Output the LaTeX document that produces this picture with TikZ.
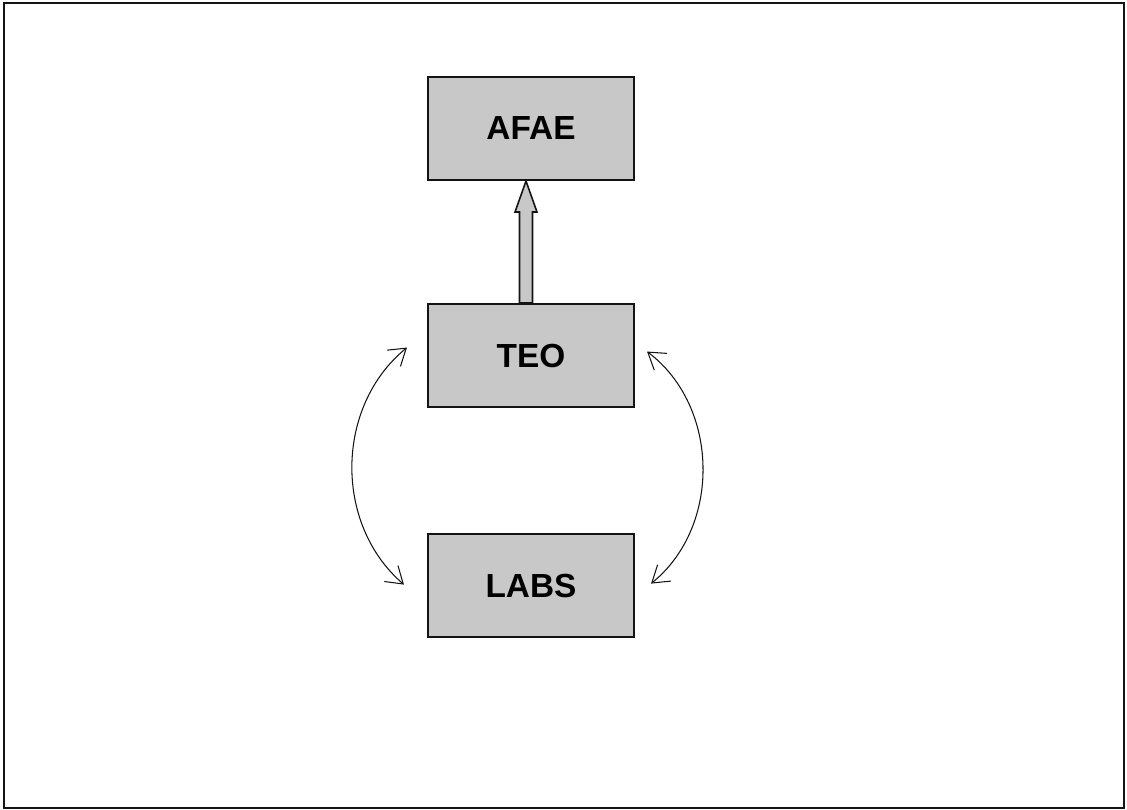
\documentclass[tikz,border=0pt]{standalone}
\usepackage{fontspec}
\setmainfont{Liberation Sans}
\usetikzlibrary{arrows.meta,positioning}
\definecolor{stipple}{RGB}{200,200,200}
\definecolor{ink}{RGB}{20,20,20}

\begin{document}
\begin{tikzpicture}[x=0.02cm,y=0.02cm,node distance=2.5cm,box/.style={rectangle,draw=ink,fill=stipple,line width=1.2pt,minimum width=4.12cm,minimum height=2.06cm,font=\fontsize{19}{21}\selectfont\bfseries},blockarrow/.style={draw=ink,fill=stipple,line width=0.9pt,line join=miter},cycarrow/.style={{Straight Barb[length=3.2mm,width=4.2mm]}-{Straight Barb[length=3.2mm,width=4.2mm]},draw=ink,line width=0.6pt}]
\useasboundingbox (0,0) rectangle (1127,810);
\draw[ink,line width=1.1pt] (4,2) rectangle (1124,807);
\node[box] (afae) at (531,681.5) {AFAE};
\node[box,below=2.44cm of afae] (teo) {TEO};
\node[box,below=of teo] (labs) {LABS};
\draw[blockarrow] ([xshift=-0.23cm]teo.north) -- ([xshift=-0.23cm,yshift=-0.62cm]afae.south) -- ([xshift=-0.32cm,yshift=-0.62cm]afae.south) -- ([xshift=-0.1cm]afae.south) -- ([xshift=0.12cm,yshift=-0.62cm]afae.south) -- ([xshift=0.03cm,yshift=-0.62cm]afae.south) -- ([xshift=0.03cm]teo.north) -- cycle;
\draw[cycarrow] ([shift={(-0.4cm,0.16cm)}]teo.west) to[bend right=50] ([shift={(-0.46cm,0.02cm)}]labs.west);
\draw[cycarrow] ([shift={(0.24cm,0.08cm)}]teo.east) to[bend left=52] ([shift={(0.32cm,0.04cm)}]labs.east);
\end{tikzpicture}
\end{document}
